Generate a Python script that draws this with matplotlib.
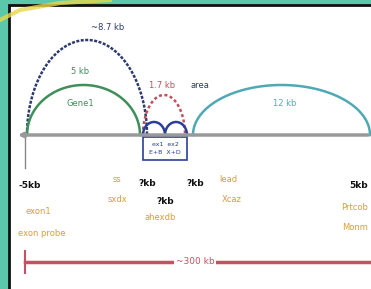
import numpy as np
import matplotlib.pyplot as plt
from matplotlib.patches import Rectangle

# arcs over the map: start, end, peak height (px above baseline)
arc_names = ['total', 'gene1', 'probe', 'exonA', 'exonB', 'gene2']
arc_start = [27, 27, 143, 143, 165, 193]
arc_end = [147, 140, 185, 165, 187, 370]
arc_height = [95, 50, 40, 13, 13, 50]
arc_colors = ['#2d3a6e', '#3f8f5a', '#c0505a', '#2b3f9a', '#2b3f9a', '#4fa9b4']
arc_styles = [(0, (1.2, 0.6)), '-', (0, (1.2, 1.0)), '-', '-', '-']

# labels on the arcs
arc_labels = ['~8.7 kb', '5 kb', 'Gene1', '1.7 kb', 'area', '12 kb']
arc_label_xy = [(108, 27), (80, 72), (80, 103), (162, 85), (200, 85), (285, 103)]
arc_label_colors = ['#2d3a6e', '#3f8f5a', '#3f8f5a', '#c0505a', '#2d3a6e', '#4fa9b4']

# position labels under the baseline
pos_labels = ['-5kb', '?kb', '?kb', '?kb', '5kb']
pos_xy = [(30, 185), (147, 184), (195, 184), (165, 201), (368, 186)]
pos_ha = ['center', 'center', 'center', 'center', 'right']

note_labels = ['exon1', 'exon probe', 'ss', 'sxdx', 'lead', 'Xcaz', 'ahexdb', 'Prtcob', 'Monm']
note_xy = [(38, 212), (42, 233), (117, 180), (117, 199), (228, 180), (232, 200),
           (160, 218), (368, 208), (368, 228)]
note_ha = ['center'] * 7 + ['right', 'right']

span_label = '~300 kb'
baseline_y = 135

fig = plt.figure(figsize=(3.71, 2.89), dpi=100)
fig.patch.set_facecolor('#5bc7ab')
ax = fig.add_axes([0, 0, 1, 1])
ax.set_xlim(0, 371)
ax.set_ylim(289, 0)
ax.axis('off')

# yellow swoosh top-left
ax.plot([0, 20, 60, 110], [20, 10, 3, 0], color='#e8d84a', lw=3, alpha=0.8)

# white panel
ax.add_patch(Rectangle((9, 5), 370, 290, facecolor='white', edgecolor='#111111', lw=2))

# baseline
ax.annotate('', xy=(15, baseline_y), xytext=(371, baseline_y),
            arrowprops=dict(arrowstyle='-|>', color='#999999', lw=2.5, mutation_scale=6))
ax.plot([25, 25], [baseline_y, 168], color='#888888', lw=1)

t = np.linspace(0, np.pi, 100)
for s, e, h, c, ls in zip(arc_start, arc_end, arc_height, arc_colors, arc_styles):
    cx = (s + e) / 2
    r = (e - s) / 2
    ax.plot(cx - r * np.cos(t), baseline_y - h * np.sin(t), color=c, lw=1.8, ls=ls)

for lab, (x, y), c in zip(arc_labels, arc_label_xy, arc_label_colors):
    ax.text(x, y, lab, color=c, fontsize=6, ha='center', va='center')

# blue box under the probe
ax.add_patch(Rectangle((143, baseline_y + 2), 44, 23, facecolor='white', edgecolor='#2b3f9a', lw=1.2))
ax.text(165, baseline_y + 9, 'ex1  ex2', color='#2b3f9a', fontsize=4.5, ha='center', va='center')
ax.text(165, baseline_y + 17, 'E+B  X+D', color='#2b3f9a', fontsize=4.5, ha='center', va='center')

for lab, (x, y), ha in zip(pos_labels, pos_xy, pos_ha):
    ax.text(x, y, lab, color='#111111', fontsize=6.5, fontweight='bold', ha=ha, va='center')

for lab, (x, y), ha in zip(note_labels, note_xy, note_ha):
    ax.text(x, y, lab, color='#d9a030', fontsize=6, ha=ha, va='center')

# total span bar
ax.plot([25, 371], [262, 262], color='#c85060', lw=2.5)
ax.plot([25, 25], [251, 273], color='#c85060', lw=1.5)
ax.text(195, 262, span_label, color='#c85060', fontsize=6.5, ha='center', va='center',
        bbox=dict(facecolor='white', edgecolor='none', pad=1))

fig.savefig('out.png', dpi=100, facecolor=fig.get_facecolor())
